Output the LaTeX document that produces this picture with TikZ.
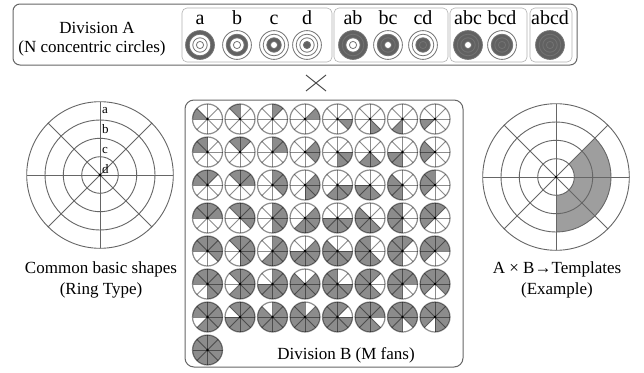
\documentclass[tikz,border=0pt]{standalone}
\usepackage{fontspec}
\setmainfont{Liberation Serif}
\begin{document}
\begin{tikzpicture}[x=1pt,y=-1pt,
  txt/.style={inner sep=0pt,anchor=base,font=\fontsize{17}{17}\selectfont},
  lbl/.style={inner sep=0pt,anchor=base,font=\fontsize{20}{20}\selectfont},
  small/.style={inner sep=0pt,anchor=base west,font=\fontsize{13}{13}\selectfont},
  frame/.style={draw=black!60,line width=1pt,rounded corners=7pt},
  group/.style={draw=black!30,line width=0.6pt,rounded corners=5pt},
  ringline/.style={draw=black!55,line width=0.8pt},
  ringfill/.style={fill=black!62},
  fanfill/.style={fill=black!45},
  fanline/.style={draw=black,draw opacity=0.45,line width=0.9pt},
  bigline/.style={draw=black!60,line width=0.9pt}]
\useasboundingbox (0,0) rectangle (644,372);
\fill[white] (0,0) rectangle (644,372);

% ---------- Division A ----------
\draw[frame] (13,4) rectangle (577,65);
\draw[group] (182,8) rectangle (332,62);
\draw[group] (334,8) rectangle (448,62);
\draw[group] (450,8) rectangle (527,62);
\draw[group] (530,8) rectangle (572,62);
\node[txt] (divA) at (97,33) {Division A};
\node[txt] (divAsub) at (92,52) {(N concentric circles)};
\foreach \cx/\nm/\ri/\ro in {200/a/3/4,237/b/2/3,274/c/1/2,307/d/0/1,
    353/ab/2/4,388/bc/1/3,423/cd/0/2,468/abc/1/4,502/bcd/0/3,550/abcd/0/4}{
  \node[lbl] (t\nm) at (\cx,24) {\nm};
  \fill[ringfill,even odd rule] (\cx,45) circle[radius=3.6*\ro] (\cx,45) circle[radius=3.6*\ri+0.01];
  \foreach \r in {1,2,3,4} \draw[ringline] (\cx,45) circle[radius=3.6*\r];
}

% ---------- cross ----------
\draw[black!70,line width=1pt] (306,75) -- (326,91) (306,91) -- (326,75);

% ---------- common basic shape ----------
\begin{scope}[shift={(100,175)},yscale=-1]
  \foreach \r in {18.3,36.7,55,73.3} \draw[bigline] (0,0) circle[radius=\r];
  \foreach \t in {0,45,90,135} \draw[bigline] (\t:73.3) -- (\t+180:73.3);
  \fill (0,0) circle[radius=1.6];
\end{scope}
\node[small] (la) at (102,113) {a};
\node[small] (lb) at (102,133) {b};
\node[small] (lc) at (102,153) {c};
\node[small] (ld) at (102,173) {d};
\node[txt] (cap1) at (101,273) {Common basic shapes};
\node[txt] (cap1b) at (101,294) {(Ring Type)};

% ---------- template example ----------
\begin{scope}[shift={(556,177)},yscale=-1]
  \fill[black!38] (-90:18.3) arc[start angle=-90,end angle=45,radius=18.3]
     -- (45:55) arc[start angle=45,end angle=-90,radius=55] -- cycle;
  \foreach \r in {18.3,36.7,55,73.3} \draw[bigline] (0,0) circle[radius=\r];
  \foreach \t in {0,45,90,135} \draw[bigline] (\t:73.3) -- (\t+180:73.3);
  \fill (0,0) circle[radius=1.4];
\end{scope}
\node[txt] (cap2) at (557,273) {A × B→Templates};
\node[txt] (cap2b) at (557,294) {(Example)};

% ---------- Division B ----------
\draw[frame,rounded corners=9pt] (185,100) rectangle (463,367);
\foreach \k in {1,...,7}{
  \foreach \j in {0,...,7}{
    \pgfmathsetmacro\cx{207.5+32.5*\j}
    \pgfmathsetmacro\cy{119+33*(\k-1)}
    \pgfmathsetmacro\ae{180-45*\j}
    \pgfmathsetmacro\as{\ae-45*\k}
    \begin{scope}[shift={(\cx,\cy)},yscale=-1]
      \fill[fanfill] (0,0) -- (\as:15) arc[start angle=\as,end angle=\ae,radius=15] -- cycle;
      \draw[fanline,line width=1.2pt] (0,0) circle[radius=15];
      \foreach \t in {0,45,90,135} \draw[fanline] (\t:15) -- (\t+180:15);
      \fill (0,0) circle[radius=1.3];
    \end{scope}
  }
}
\begin{scope}[shift={(207.5,350)},yscale=-1]
  \fill[fanfill] (0,0) circle[radius=15];
  \draw[fanline,line width=1.2pt] (0,0) circle[radius=15];
  \foreach \t in {0,45,90,135} \draw[fanline] (\t:15) -- (\t+180:15);
  \fill (0,0) circle[radius=1.3];
\end{scope}
\node[txt] (divB) at (346,359) {Division B (M fans)};
\end{tikzpicture}
\end{document}
